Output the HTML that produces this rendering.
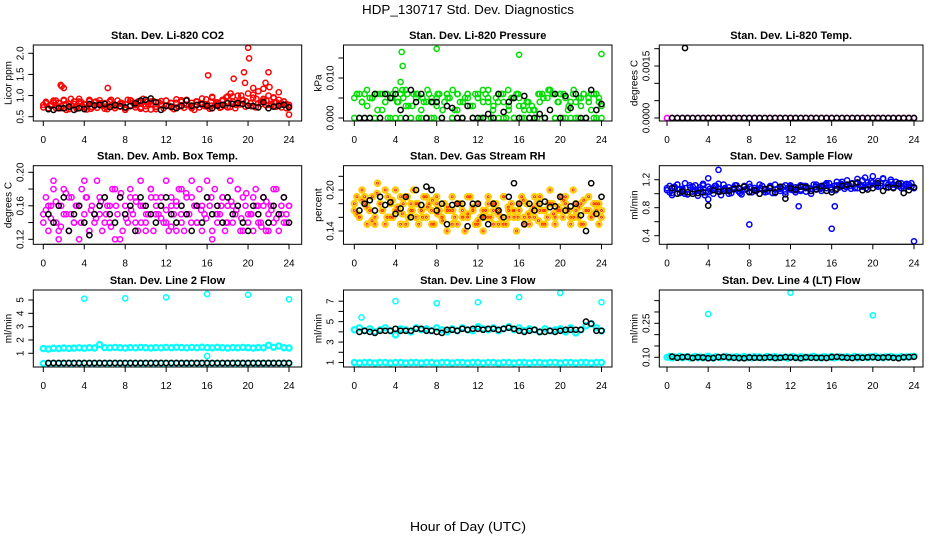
<!DOCTYPE html>
<html><head><meta charset="utf-8"><title>HDP_130717 Std. Dev. Diagnostics</title>
<style>
html,body{margin:0;padding:0;background:#fff;}
svg{display:block;font-family:"Liberation Sans",sans-serif;}
</style></head>
<body>
<svg id="chart" width="936" height="540" viewBox="0 0 936 540" xmlns="http://www.w3.org/2000/svg">
<text x="468" y="14" text-anchor="middle" font-size="13" textLength="212" lengthAdjust="spacingAndGlyphs">HDP_130717  Std. Dev. Diagnostics</text>
<text x="468" y="531" text-anchor="middle" font-size="13" textLength="116" lengthAdjust="spacingAndGlyphs">Hour of Day (UTC)</text>
</svg>
<script>
// ---------- data ----------
const xTicks = [0,4,8,12,16,20,24];
const xTickLabels = ["0","4","8","12","16","20","24"];

const co2Red = [0.72,0.85,0.68,0.79,0.88,0.70,0.83,0.75,0.90,0.66,0.81,0.77,0.86,0.69,0.92,0.74,0.80,0.67,0.87,0.73,0.84,0.71,0.89,0.76,0.82,0.68,0.85,0.78,0.70,0.88,0.74,0.81,0.66,0.90,0.77,0.83,0.72,0.86,0.69,0.92,0.75,0.80,0.67,0.87,0.73,0.84,0.79,0.70,0.88,0.76,0.82,0.68,0.91,0.74,0.85,0.71,0.89,0.77,0.83,0.66,0.86,0.72,0.93,0.75,0.80,0.69,0.97,0.78,0.84,0.71,0.90,0.76,0.98,0.73,0.86,0.70,1.00,0.79,0.88,0.74,1.05,0.82,0.95,0.72,1.10,0.85,0.92,0.77,1.00,0.80,0.96,0.74,0.90,0.82,0.86,0.70,0.78];
const co2RedB = [0.78,0.70,0.84,0.74,0.88,0.68,0.80,0.86,0.72,0.90,0.76,0.82,0.69,0.87,0.75,0.81,0.71,0.89,0.77,0.84,0.68,0.86,0.74,0.80,0.88,0.72,0.83,0.76,0.90,0.70,0.85,0.78,0.74,0.95,0.80,0.87,0.72,0.98,0.84,0.90,0.76,1.02,0.82,0.88,0.78,0.94,0.80,0.86,0.74];
const co2RedC = [0.82,0.75,0.88,0.70,0.80,0.92,0.73,0.85,0.78,0.69,0.86,0.81,0.74,0.90,0.77,0.83,0.70,0.88,0.79,0.72,0.85,0.80,0.68,0.87,0.76,0.83,0.71,0.89,0.78,0.74,0.86,0.80,0.91,0.76,0.84,0.73,0.96,0.82,0.78,1.00,0.86,0.75,0.92,0.80,0.88,0.77,0.84,0.72,0.80];
const co2OutX = [1.7,1.8,2.0,6.3,16.1,18.6,19.6,19.7,20.0,20.1,22.0,21.7,22.1,18.3,20.5,24.0,21.5,23.0];
const co2OutY = [1.25,1.22,1.18,1.18,1.48,1.40,1.55,1.30,2.13,1.88,1.55,1.30,1.20,1.05,1.18,0.55,1.16,1.08];
const co2Black = [0.68,0.66,0.70,0.70,0.74,0.66,0.70,0.68,0.80,0.77,0.78,0.80,0.73,0.78,0.75,0.72,0.75,0.82,0.88,0.90,0.93,0.84,0.66,0.76,0.74,0.70,0.76,0.88,0.76,0.78,0.80,0.76,0.70,0.76,0.78,0.82,0.80,0.82,0.80,0.76,0.75,0.72,0.84,0.70,0.74,0.76,0.78,0.72];

const presGreen = [0.005,0.006,0,0.004,0.006,0.003,0,0.005,0.006,0.002,0,0.006,0.004,0,0.005,0.006,0,0.004,0.006,0.005,0.007,0.003,0,0.006,0.005,0,0.002,0.004,0,0.006,0.005,0,0.003,0.006,0,0.004,0.006,0.005,0,0.002,0.006,0.004,0,0.005,0.006,0.003,0,0.006,0.005,0,0.004,0.006,0.007,0,0.003,0.005,0,0.006,0.004,0,0.002,0.005,0,0.006,0.003,0,0.002,0.004,0,0.003,0.002,0,0.004,0.006,0,0.005,0.007,0.006,0,0.004,0.006,0,0.005,0.002,0,0.006,0.004,0,0.003,0.006,0,0.005,0.002,0,0.006,0.004,0];
const presGreenB = [0,0.006,0,0.005,0,0.006,0.004,0,0.007,0,0.003,0,0.006,0,0.004,0,0.005,0,0.006,0,0.002,0,0.006,0,0.005,0,0.004,0,0.006,0,0.003,0,0.005,0,0.002,0,0.006,0,0.007,0,0.006,0,0.004,0,0.005,0,0.006,0,0.003];
const presGreenC = [0.006,0.004,0.007,0.005,0.006,0.002,0.006,0.005,0.004,0.007,0.006,0.003,0.006,0.005,0.007,0.004,0.006,0.002,0.005,0.007,0.006,0.004,0.005,0.003,0.006,0.007,0.005,0.002,0.004,0.006,0.007,0.005,0.006,0.003,0.004,0.002,0.006,0.005,0.007,0.006,0.004,0.006,0.003,0.007,0.005,0.006,0.004,0.006,0.005];
const presOutX = [4.6,4.7,4.5,8.0,16.0,24.0];
const presOutY = [0.0165,0.0130,0.0090,0.0173,0.0158,0.0160];
const presBlack = [0,0,0,0.006,0,0.006,0.005,0.006,0.002,0,0.007,0.004,0.006,0,0.004,0.004,0,0.003,0.0025,0,0,0.003,0,0,0,0.001,0,0.006,0.0015,0.004,0.005,0,0.0055,0,0,0.001,0,0.002,0.006,0,0.0055,0.0025,0.006,0,0,0.007,0.002,0.0035];

const tempMag = [0,0,0,0,0,0,0,0,0,0,0,0,0,0,0,0,0,0,0,0,0,0,0,0,0,0,0,0,0,0,0,0,0,0,0,0,0,0,0,0,0,0,0,0,0,0,0,0,0];
const tempBlack = [0,0,0,0,0,0,0,0,0,0,0,0,0,0,0,0,0,0,0,0,0,0,0,0,0,0,0,0,0,0,0,0,0,0,0,0,0,0,0,0,0,0,0,0,0,0,0,0];
const tempOutX = [1.75];
const tempOutY = [0.00202];

const ambMag = [0.15,0.17,0.13,0.16,0.19,0.14,0.12,0.16,0.18,0.15,0.13,0.17,0.14,0.16,0.12,0.18,0.15,0.17,0.13,0.16,0.14,0.19,0.15,0.13,0.17,0.16,0.14,0.18,0.12,0.15,0.17,0.13,0.16,0.14,0.18,0.15,0.17,0.13,0.19,0.16,0.14,0.15,0.18,0.13,0.17,0.15,0.16,0.14,0.19,0.13,0.17,0.15,0.16,0.18,0.14,0.13,0.17,0.15,0.19,0.16,0.14,0.18,0.13,0.15,0.17,0.16,0.12,0.18,0.14,0.15,0.17,0.13,0.16,0.19,0.14,0.15,0.18,0.13,0.17,0.16,0.14,0.15,0.13,0.18,0.16,0.14,0.17,0.13,0.15,0.16,0.14,0.18,0.13,0.15,0.17,0.14,0.16];
const ambMagB = [0.14,0.16,0.18,0.13,0.15,0.17,0.14,0.16,0.19,0.13,0.15,0.17,0.14,0.16,0.18,0.12,0.15,0.17,0.14,0.16,0.13,0.18,0.15,0.17,0.14,0.16,0.13,0.18,0.15,0.17,0.14,0.16,0.19,0.13,0.15,0.17,0.14,0.16,0.18,0.13,0.15,0.17,0.14,0.16,0.13,0.18,0.15,0.14,0.16];
const ambMagC = [0.155,0.145,0.165,0.135,0.175,0.150,0.160,0.140,0.170,0.155,0.145,0.165,0.150,0.135,0.160,0.175,0.145,0.155,0.165,0.140,0.150,0.170,0.160,0.145,0.155,0.135,0.165,0.150,0.175,0.140,0.160,0.155,0.145,0.170,0.150,0.160,0.140,0.165,0.155,0.145,0.175,0.150,0.160,0.135,0.165,0.155,0.145,0.160,0.150];
const ambBlack = [0.15,0.14,0.16,0.17,0.13,0.15,0.16,0.14,0.125,0.15,0.16,0.17,0.15,0.14,0.17,0.15,0.16,0.13,0.17,0.16,0.15,0.14,0.16,0.17,0.15,0.14,0.16,0.15,0.13,0.16,0.14,0.17,0.15,0.16,0.14,0.17,0.15,0.16,0.14,0.13,0.16,0.15,0.17,0.14,0.16,0.15,0.17,0.14];

const rhYellow = [0.17,0.19,0.16,0.20,0.18,0.15,0.17,0.19,0.16,0.21,0.18,0.17,0.15,0.19,0.18,0.16,0.20,0.17,0.15,0.18,0.19,0.16,0.17,0.20,0.18,0.15,0.17,0.19,0.16,0.18,0.17,0.15,0.19,0.17,0.16,0.18,0.14,0.17,0.19,0.16,0.15,0.18,0.17,0.14,0.16,0.19,0.17,0.15,0.18,0.16,0.14,0.17,0.19,0.16,0.15,0.18,0.17,0.16,0.19,0.15,0.17,0.18,0.16,0.14,0.17,0.19,0.16,0.18,0.15,0.17,0.16,0.18,0.19,0.15,0.17,0.16,0.20,0.18,0.15,0.17,0.19,0.16,0.18,0.17,0.15,0.20,0.17,0.16,0.18,0.15,0.17,0.19,0.16,0.18,0.17,0.15,0.16];
const rhYellowB = [0.18,0.16,0.19,0.17,0.15,0.18,0.20,0.16,0.17,0.19,0.15,0.18,0.16,0.17,0.19,0.15,0.18,0.16,0.17,0.15,0.18,0.16,0.19,0.17,0.15,0.16,0.18,0.17,0.15,0.19,0.16,0.17,0.18,0.15,0.16,0.19,0.17,0.15,0.18,0.16,0.17,0.19,0.16,0.18,0.15,0.17,0.16,0.18,0.17];
const rhYellowC = [0.165,0.185,0.175,0.155,0.195,0.170,0.160,0.185,0.175,0.165,0.190,0.170,0.180,0.160,0.175,0.185,0.165,0.155,0.175,0.170,0.180,0.160,0.165,0.175,0.155,0.170,0.160,0.180,0.165,0.150,0.175,0.170,0.160,0.185,0.165,0.175,0.155,0.170,0.180,0.165,0.175,0.185,0.170,0.160,0.175,0.185,0.170,0.165,0.180];
const rhBlack = [0.17,0.18,0.185,0.17,0.19,0.178,0.182,0.165,0.173,0.19,0.16,0.20,0.178,0.205,0.20,0.17,0.18,0.15,0.178,0.18,0.18,0.147,0.18,0.18,0.16,0.15,0.18,0.17,0.16,0.19,0.21,0.18,0.15,0.18,0.17,0.18,0.183,0.175,0.176,0.19,0.17,0.176,0.18,0.163,0.14,0.21,0.165,0.19];

const flowBlue = [1.05,1.11,0.98,1.08,1.13,1.01,1.07,1.15,0.99,1.09,1.03,1.12,0.97,1.06,1.14,1.02,1.10,1.04,1.00,1.11,1.07,0.98,1.13,1.05,1.09,1.01,1.06,1.12,1.03,0.99,1.10,1.07,1.14,1.02,1.08,1.05,1.00,1.11,1.06,1.03,1.09,1.01,1.13,1.07,1.04,1.10,0.99,1.08,1.12,1.05,1.02,1.09,1.06,1.11,1.03,1.08,1.00,1.13,1.07,1.10,1.04,1.12,1.08,1.15,1.06,1.11,1.17,1.09,1.13,1.07,1.19,1.11,1.15,1.08,1.21,1.13,1.10,1.23,1.16,1.12,1.25,1.14,1.18,1.11,1.22,1.15,1.09,1.20,1.13,1.17,1.11,1.15,1.08,1.13,1.10,1.15,1.09];
const flowBlueB = [1.08,1.01,1.13,1.05,0.99,1.10,1.06,1.12,1.02,1.08,1.14,1.04,1.00,1.09,1.07,1.11,1.03,1.08,1.13,1.05,1.10,1.01,1.07,1.12,1.06,1.09,1.04,1.11,1.07,1.13,1.09,1.15,1.06,1.12,1.17,1.10,1.14,1.08,1.19,1.12,1.16,1.10,1.21,1.13,1.09,1.15,1.11,1.13,1.08];
const flowBlueC = [1.02,1.10,1.06,1.00,1.12,1.04,1.09,0.98,1.07,1.11,1.03,1.08,1.05,1.12,1.01,1.06,1.10,1.04,1.08,1.02,1.11,1.06,1.09,1.03,1.10,1.05,1.12,1.08,1.04,1.10,1.07,1.13,1.09,1.05,1.14,1.10,1.07,1.15,1.11,1.08,1.18,1.12,1.15,1.09,1.17,1.12,1.08,1.14,1.10];
const flowOutX = [4.0,5.0,8.0,12.8,16.0,16.3,24.0,4.0];
const flowOutY = [1.22,1.34,0.56,0.82,0.50,0.82,0.32,0.92];
const flowBlack = [1.08,1.00,1.03,1.02,1.00,1.01,1.02,0.83,1.05,1.03,1.04,1.04,1.07,1.08,1.10,1.02,1.05,1.00,1.07,1.08,1.02,1.10,0.93,1.08,1.06,1.10,1.09,1.04,1.06,1.11,1.04,1.02,1.07,1.11,1.13,1.14,1.16,1.05,1.06,1.08,1.15,1.04,1.09,1.08,1.14,1.01,1.05,1.09];

const l2CyanBand = [1.35,1.32,1.38,1.36,1.40,1.37,1.39,1.41,1.38,1.42,1.40,1.65,1.43,1.41,1.44,1.42,1.40,1.43,1.41,1.44,1.42,1.40,1.43,1.41,1.44,1.42,1.45,1.43,1.41,1.44,1.42,1.46,1.43,1.41,1.45,1.42,1.40,1.43,1.41,1.44,1.42,1.40,1.43,1.41,1.60,1.45,1.55,1.42,1.40];
const l2CyanLow = [0.25,0.25,0.26,0.25,0.25,0.26,0.25,0.25,0.26,0.25,0.25,0.26,0.25,0.25,0.26,0.25,0.25,0.26,0.25,0.25,0.26,0.25,0.25,0.26,0.25,0.25,0.26,0.25,0.25,0.26,0.25,0.25,0.26,0.25,0.25,0.26,0.25,0.25,0.26,0.25,0.25,0.26,0.25,0.25,0.26,0.25,0.25,0.26,0.25];
const l2OutX = [4.0,8.0,12.0,16.0,20.0,24.0,16.0];
const l2OutY = [5.10,5.12,5.20,5.45,5.40,5.05,0.80];
const l2Black = [0.27,0.27,0.27,0.27,0.27,0.27,0.27,0.27,0.27,0.27,0.27,0.27,0.27,0.27,0.27,0.27,0.27,0.27,0.27,0.27,0.27,0.27,0.27,0.27,0.27,0.27,0.27,0.27,0.27,0.27,0.27,0.27,0.27,0.27,0.27,0.27,0.27,0.27,0.27,0.27,0.27,0.27,0.27,0.27,0.27,0.27,0.27,0.27];

const l3CyanMid = [4.2,4.4,4.1,4.3,4.0,4.2,4.4,4.1,3.7,4.3,4.2,4.0,4.4,4.2,4.3,4.1,4.4,4.2,4.0,4.3,4.1,4.4,4.2,4.1,4.5,4.3,4.2,4.4,4.1,4.3,4.5,4.2,4.4,4.1,4.3,4.2,4.0,4.3,4.1,4.2,4.3,4.0,4.4,3.9,4.2,4.6,4.8,4.4,4.1];
const l3CyanLow = [1.0,0.95,1.0,1.0,0.95,1.0,1.0,0.95,1.0,1.0,0.95,1.0,1.0,0.95,1.0,1.0,0.95,1.0,1.0,0.95,1.0,1.0,0.95,1.0,1.0,0.95,1.0,1.0,0.95,1.0,1.0,0.95,1.0,1.0,0.95,1.0,1.0,0.95,1.0,1.0,0.95,1.0,1.0,0.95,1.0,1.0,0.95,1.0,1.0];
const l3OutX = [0.7,4.0,8.0,12.0,16.0,20.0,24.0];
const l3OutY = [5.4,7.0,6.8,6.9,7.4,7.8,6.9];
const l3Black = [4.0,4.1,4.0,3.9,4.1,4.1,4.1,4.3,4.1,4.1,4.1,4.3,4.3,4.1,4.1,4.0,3.9,4.2,4.2,4.1,4.3,4.2,4.3,4.3,4.2,4.3,4.3,4.2,4.3,4.4,4.3,4.1,4.0,4.1,4.2,4.0,4.0,4.1,4.0,4.1,4.2,4.2,4.2,4.2,5.0,4.8,4.1,4.1];

const l4Cyan = [0.100,0.104,0.097,0.102,0.099,0.105,0.098,0.101,0.103,0.096,0.100,0.104,0.098,0.102,0.097,0.101,0.105,0.099,0.096,0.103,0.100,0.098,0.102,0.104,0.097,0.101,0.099,0.103,0.096,0.100,0.104,0.098,0.101,0.097,0.103,0.099,0.102,0.096,0.100,0.104,0.098,0.101,0.103,0.097,0.100,0.099,0.102,0.096,0.101,0.104,0.098,0.100,0.103,0.097,0.101,0.099,0.102,0.105,0.098,0.100,0.096,0.103,0.101,0.099,0.104,0.097,0.100,0.102,0.098,0.101,0.103,0.099,0.100,0.104,0.097,0.102,0.099,0.101,0.098,0.103,0.100,0.105,0.099,0.101,0.097,0.102,0.100,0.104,0.098,0.101,0.099,0.103,0.100,0.102,0.101,0.104,0.105];
const l4OutX = [4.0,12.0,20.0];
const l4OutY = [0.291,0.385,0.285];
const l4Black = [0.103,0.098,0.101,0.102,0.097,0.100,0.099,0.096,0.097,0.101,0.102,0.100,0.098,0.097,0.096,0.099,0.098,0.098,0.098,0.100,0.097,0.098,0.101,0.099,0.098,0.096,0.100,0.098,0.098,0.098,0.097,0.101,0.102,0.100,0.098,0.097,0.100,0.098,0.100,0.101,0.098,0.099,0.100,0.098,0.096,0.100,0.101,0.102];

const yTicksP1=[0.5,1.0,1.5,2.0], yLabP1=["0.5","1.0","1.5","2.0"];
const yTicksP2=[0,0.005,0.010,0.015], yLabP2=["0.000","","0.010",""];
const yTicksP3=[0,0.0005,0.0010,0.0015,0.0020], yLabP3=["0.0000","","","0.0015",""];
const yTicksP4=[0.12,0.14,0.16,0.18,0.20], yLabP4=["0.12","","0.16","","0.20"];
const yTicksP5=[0.14,0.16,0.18,0.20,0.22], yLabP5=["0.14","","","0.20",""];
const yTicksP6=[0.4,0.6,0.8,1.0,1.2], yLabP6=["0.4","","0.8","","1.2"];
const yTicksP7=[1,2,3,4,5], yLabP7=["1","2","3","4","5"];
const yTicksP8=[1,2,3,4,5,6,7], yLabP8=["1","","3","","5","","7"];
const yTicksP9=[0.10,0.15,0.20,0.25,0.30,0.35], yLabP9=["0.10","","","0.25","",""];

// ---------- layout ----------
const NS="http://www.w3.org/2000/svg";
const svg=document.getElementById('chart');
const cols=[{l:33.3,r:301.7,x0:43.3,x24:289},{l:343.5,r:612,x0:354.3,x24:601.5},{l:659.3,r:923,x0:667,x24:914}];
const rows=[{t:45,b:121},{t:165.7,b:244.3},{t:290,b:367}];

function mk(tag,attrs,parent){const e=document.createElementNS(NS,tag);for(const k in attrs)e.setAttribute(k,attrs[k]);(parent||svg).appendChild(e);return e;}

function xScale(c){const C=cols[c];return h=>C.x0+(C.x24-C.x0)*h/24;}
function yScale(r,vTop,yTop,vBot,yBot){return v=>yBot+(v-vBot)*(yTop-yBot)/(vTop-vBot);}

function drawSeries(g,xs,ys,vals,color,rad,sw,name){
  const sg=mk('g',{},g);
  
  
  for(let i=0;i<vals.length;i++){
    const c=mk('circle',{cx:xs(i).toFixed(1),cy:ys(vals[i]).toFixed(1),r:rad,fill:'none',stroke:color,'stroke-width':sw},sg);
    
    
  }
}

function panel(p){
  const C=cols[p.col],R=rows[p.row];
  const g=mk('g',{});
  
  
  const X=xScale(p.col);
  const Y=yScale(p.row,p.vA,p.yA,p.vB,p.yB);
  const clip=mk('g',{},g);
  p.series.forEach(s=>{
    let xs;
    if(s.xv){xs=i=>X(s.xv[i]);}
    else if(s.kind==='half'){xs=i=>X(0.5+i*0.5);}
    else if(s.kind==='shift'){const n=s.v.length;xs=i=>X(0.25+i*23.5/(n-1));}
    else {const n=s.v.length;xs=i=>X(i*24/(n-1));}
    drawSeries(clip,xs,Y,s.v,s.color,s.r||2.6,s.sw||1.5,s.name);
  });
  const box=mk('rect',{x:C.l,y:R.t,width:C.r-C.l,height:R.b-R.t,fill:'none',stroke:'#000','stroke-width':1},g);
  
  
  const xa=mk('g',{},g);
  
  
  mk('line',{x1:X(xTicks[0]),x2:X(xTicks[xTicks.length-1]),y1:R.b,y2:R.b,stroke:'#000'},xa);
  xTicks.forEach((t,i)=>{
    mk('line',{x1:X(t),x2:X(t),y1:R.b,y2:R.b+5,stroke:'#000'},xa);
    const tx=mk('text',{x:X(t),y:R.b+22,'text-anchor':'middle','font-size':10},xa);
    tx.textContent=xTickLabels[i];
    
    
  });
  const ya=mk('g',{},g);
  
  
  mk('line',{x1:C.l,x2:C.l,y1:Y(p.ticks[0]),y2:Y(p.ticks[p.ticks.length-1]),stroke:'#000'},ya);
  p.ticks.forEach((t,i)=>{
    const yy=Y(t);
    mk('line',{x1:C.l-5,x2:C.l,y1:yy,y2:yy,stroke:'#000'},ya);
    if(p.labels[i]){
      const tx=mk('text',{x:C.l-10,y:yy,'text-anchor':'middle','font-size':10,transform:`rotate(-90 ${C.l-10} ${yy})`},ya);
      tx.textContent=p.labels[i];
      
      
    }
  });
  const yl=mk('text',{x:C.l-22,y:(R.t+R.b)/2,'text-anchor':'middle','font-size':10,transform:`rotate(-90 ${C.l-22} ${(R.t+R.b)/2})`},g);
  yl.textContent=p.ylab;
  
  
  const tt=mk('text',{x:(C.l+C.r)/2,y:R.t-6,'text-anchor':'middle','font-size':11,'font-weight':'bold'},g);
  tt.textContent=p.title;
  
  
}

const CY='#00ffff';
panel({name:'panel-co2',col:0,row:0,vA:2.0,yA:53.3,vB:0.5,yB:116.7,ticks:yTicksP1,labels:yLabP1,ylab:'Licor ppm',title:'Stan. Dev. Li-820 CO2',
 series:[{v:co2Red,color:'#ff0000',name:'co2-red'},{v:co2RedB,color:'#ff0000',name:'co2-red-b'},{v:co2RedC,kind:'shift',color:'#ff0000',name:'co2-red-c'},{v:co2OutY,xv:co2OutX,color:'#ff0000',name:'co2-outliers'},{v:co2Black,kind:'half',color:'#000',name:'co2-black'}]});
panel({name:'panel-pressure',col:1,row:0,vA:0.010,yA:78,vB:0,yB:118,ticks:yTicksP2,labels:yLabP2,ylab:'kPa',title:'Stan. Dev. Li-820 Pressure',
 series:[{v:presGreen,color:'#00dd00',name:'pressure-green'},{v:presGreenB,color:'#00dd00',name:'pressure-green-b'},{v:presGreenC,kind:'shift',color:'#00dd00',name:'pressure-green-c'},{v:presOutY,xv:presOutX,color:'#00dd00',name:'pressure-outliers'},{v:presBlack,kind:'half',color:'#000',name:'pressure-black'}]});
panel({name:'panel-temp',col:2,row:0,vA:0.0015,yA:66,vB:0,yB:118,ticks:yTicksP3,labels:yLabP3,ylab:'degrees C',title:'Stan. Dev. Li-820 Temp.',
 series:[{v:tempMag,color:'#ff00ff',name:'temp-magenta'},{v:tempBlack,kind:'half',color:'#000',name:'temp-black'},{v:tempOutY,xv:tempOutX,color:'#000',name:'temp-outlier'}]});
panel({name:'panel-amb-box-temp',col:0,row:1,vA:0.20,yA:172.3,vB:0.12,yB:239.3,ticks:yTicksP4,labels:yLabP4,ylab:'degrees C',title:'Stan. Dev. Amb. Box Temp.',
 series:[{v:ambMag,color:'#ff00ff',name:'amb-magenta'},{v:ambMagB,color:'#ff00ff',name:'amb-magenta-b'},{v:ambMagC,kind:'shift',color:'#ff00ff',name:'amb-magenta-c'},{v:ambBlack,kind:'half',color:'#000',name:'amb-black'}]});
panel({name:'panel-gas-rh',col:1,row:1,vA:0.20,yA:190,vB:0.14,yB:231,ticks:yTicksP5,labels:yLabP5,ylab:'percent',title:'Stan. Dev. Gas Stream RH',
 series:[{v:rhYellow,color:'#ffcc00',r:2.8,sw:2,name:'rh-yellow'},{v:rhYellowB,color:'#ffcc00',r:2.8,sw:2,name:'rh-yellow-b'},{v:rhYellowC,kind:'shift',color:'#ffcc00',r:2.8,sw:2,name:'rh-yellow-c'},{v:rhYellow,color:'#ff3300',r:1,sw:1,name:'rh-red'},{v:rhYellowB,color:'#ff3300',r:1,sw:1,name:'rh-red-b'},{v:rhYellowC,kind:'shift',color:'#ff3300',r:1,sw:1,name:'rh-red-c'},{v:rhBlack,kind:'half',color:'#000',name:'rh-black'}]});
panel({name:'panel-sample-flow',col:2,row:1,vA:1.2,yA:179.7,vB:0.4,yB:235.7,ticks:yTicksP6,labels:yLabP6,ylab:'ml/min',title:'Stan. Dev. Sample Flow',
 series:[{v:flowBlue,color:'#0000ff',name:'flow-blue'},{v:flowBlueB,color:'#0000ff',name:'flow-blue-b'},{v:flowBlueC,kind:'shift',color:'#0000ff',name:'flow-blue-c'},{v:flowOutY,xv:flowOutX,color:'#0000ff',name:'flow-outliers'},{v:flowBlack,kind:'half',color:'#000',name:'flow-black'}]});
panel({name:'panel-line2',col:0,row:2,vA:5,yA:300,vB:1,yB:353.3,ticks:yTicksP7,labels:yLabP7,ylab:'ml/min',title:'Stan. Dev. Line 2 Flow',
 series:[{v:l2CyanBand,color:CY,sw:2.2,name:'line2-cyan-band'},{v:l2CyanLow,color:CY,sw:2,name:'line2-cyan-low'},{v:l2OutY,xv:l2OutX,color:CY,name:'line2-outliers'},{v:l2Black,kind:'half',color:'#000',name:'line2-black'}]});
panel({name:'panel-line3',col:1,row:2,vA:7,yA:301.2,vB:1,yB:362.5,ticks:yTicksP8,labels:yLabP8,ylab:'ml/min',title:'Stan. Dev. Line 3 Flow',
 series:[{v:l3CyanMid,color:CY,sw:2.2,name:'line3-cyan-mid'},{v:l3CyanLow,color:CY,sw:2.2,name:'line3-cyan-low'},{v:l3OutY,xv:l3OutX,color:CY,name:'line3-outliers'},{v:l3Black,kind:'half',color:'#000',name:'line3-black'}]});
panel({name:'panel-line4',col:2,row:2,vA:0.25,yA:323.3,vB:0.10,yB:357.3,ticks:yTicksP9,labels:yLabP9,ylab:'ml/min',title:'Stan. Dev. Line 4 (LT) Flow',
 series:[{v:l4Cyan,color:CY,sw:2,name:'line4-cyan'},{v:l4OutY,xv:l4OutX,color:CY,name:'line4-outliers'},{v:l4Black,kind:'half',color:'#000',name:'line4-black'}]});
</script>
</body></html>
